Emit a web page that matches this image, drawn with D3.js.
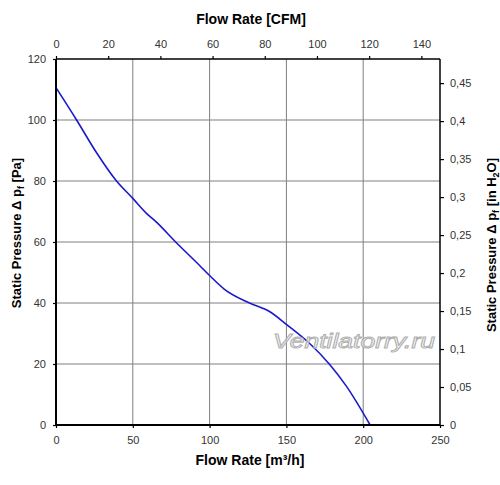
<!DOCTYPE html>
<html><head><meta charset="utf-8">
<script src="https://cdn.jsdelivr.net/npm/d3@7"></script>
<style>body{margin:0;background:#fff}svg{display:block;font-family:"Liberation Sans",Arial,sans-serif}</style>
</head><body><svg id="c" width="500" height="485"></svg>
<script>
const flowM3h = [0, 13.4, 26, 39.4, 50, 58.9, 65.4, 77.9, 93.5, 100, 109.7, 126, 139, 150, 165, 177.9, 188.8, 204.5];
const pressurePa = [110.6, 100, 89.6, 80, 74.3, 69.4, 66.5, 60, 52.3, 49, 44.5, 40, 37.2, 33, 26.8, 20, 12.9, 0];
const bottomTicks = [0, 50, 100, 150, 200, 250];
const topTicks = [0, 20, 40, 60, 80, 100, 120, 140];
const leftTicks = [0, 20, 40, 60, 80, 100, 120];
const rightTicks = [0, 0.05, 0.1, 0.15, 0.2, 0.25, 0.3, 0.35, 0.4, 0.45];

const L = 56, R = 440, T = 59, B = 425;
const svg = d3.select("#c");
const x = d3.scaleLinear().domain([0, 250]).range([L, R]);
const xc = d3.scaleLinear().domain([0, 250 / 1.699]).range([L, R]);
const y = d3.scaleLinear().domain([0, 120]).range([B, T]);
const yr = d3.scaleLinear().domain([0, 120 / 249.09]).range([B, T]);
const fmt = d => String(+d.toFixed(2)).replace(".", ",");

// grid
const g = svg.append("g").attr("stroke", "#7f7f7f").attr("stroke-width", 1);
[50, 100, 150, 200].forEach(v => g.append("line").attr("x1", x(v)).attr("x2", x(v)).attr("y1", T).attr("y2", B));
[20, 40, 60, 80, 100].forEach(v => g.append("line").attr("x1", L).attr("x2", R).attr("y1", y(v)).attr("y2", y(v)));

// curve
svg.append("path").datum(flowM3h.map((f, i) => [f, pressurePa[i]]))
  .attr("fill", "none").attr("stroke", "#1a1acc").attr("stroke-width", 1.6)
  .attr("d", d3.line().x(d => x(d[0])).y(d => y(d[1])).curve(d3.curveMonotoneX));

// watermark
svg.append("text").attr("x", 273).attr("y", 348).attr("font-size", 21).attr("font-style", "italic")
  .attr("textLength", 162).attr("lengthAdjust", "spacingAndGlyphs")
  .attr("fill", "#fff").attr("stroke", "#b0b0b0").attr("stroke-width", 1).attr("fill-opacity", 0.6)
  .text("Ventilatorry.ru");

// frame
svg.append("line").attr("x1", L).attr("x2", L).attr("y1", T).attr("y2", B).attr("stroke", "#000").attr("stroke-width", 2);
svg.append("line").attr("x1", L).attr("x2", R).attr("y1", B).attr("y2", B).attr("stroke", "#000").attr("stroke-width", 2);
svg.append("line").attr("x1", L).attr("x2", R).attr("y1", T).attr("y2", T).attr("stroke", "#000").attr("stroke-width", 1.5);
svg.append("line").attr("x1", R).attr("x2", R).attr("y1", T).attr("y2", B).attr("stroke", "#000").attr("stroke-width", 1.5);

function styleAxis(sel) {
  sel.select(".domain").remove();
  sel.selectAll("line").attr("stroke", "#000").attr("stroke-width", 1.2);
  sel.selectAll("text").attr("font-size", 11).attr("fill", "#333").attr("font-family", '"Liberation Sans",Arial,sans-serif');
}
svg.append("g").attr("transform", `translate(0,${B})`)
  .call(d3.axisBottom(x).tickValues(bottomTicks).tickSize(3).tickPadding(8)).call(styleAxis);
svg.append("g").attr("transform", `translate(0,${T})`)
  .call(d3.axisTop(xc).tickValues(topTicks).tickSize(3).tickPadding(8)).call(styleAxis);
svg.append("g").attr("transform", `translate(${L},0)`)
  .call(d3.axisLeft(y).tickValues(leftTicks).tickSize(3).tickPadding(7)).call(styleAxis);
svg.append("g").attr("transform", `translate(${R},0)`)
  .call(d3.axisRight(yr).tickValues(rightTicks).tickSize(4).tickFormat(fmt).tickPadding(6)).call(styleAxis);

// titles
svg.append("text").attr("x", 251).attr("y", 24).attr("text-anchor", "middle").attr("font-size", 14).attr("font-weight", "bold").text("Flow Rate [CFM]");
svg.append("text").attr("x", 250).attr("y", 465).attr("text-anchor", "middle").attr("font-size", 14).attr("font-weight", "bold").text("Flow Rate [m³/h]");

const lt = svg.append("text").attr("transform", "translate(21,233) rotate(-90)").attr("text-anchor", "middle").attr("font-size", 13).attr("font-weight", "bold");
lt.append("tspan").text("Static Pressure Δ p");
lt.append("tspan").attr("font-size", 9).attr("dy", 3).text("f");
lt.append("tspan").attr("dy", -3).text(" [Pa]");

const rt = svg.append("text").attr("transform", "translate(496,245) rotate(-90)").attr("text-anchor", "middle").attr("font-size", 13).attr("font-weight", "bold");
rt.append("tspan").text("Static Pressure Δ p");
rt.append("tspan").attr("font-size", 9).attr("dy", 3).text("f");
rt.append("tspan").attr("dy", -3).text(" [in H");
rt.append("tspan").attr("font-size", 9).attr("dy", 3).text("2");
rt.append("tspan").attr("dy", -3).text("O]");
</script></body></html>
